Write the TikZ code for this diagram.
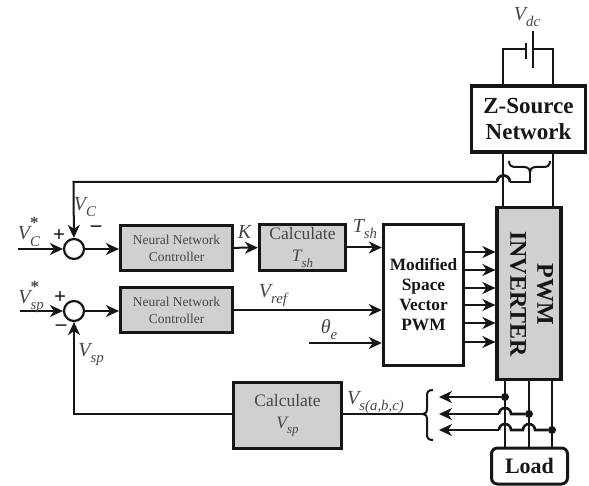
\documentclass[tikz,border=0pt]{standalone}
\usepackage{fontspec}
\setmainfont{Liberation Serif}
\usetikzlibrary{arrows.meta}
\definecolor{boxgray}{RGB}{208,208,208}
\definecolor{inkc}{RGB}{22,22,22}
\definecolor{labc}{RGB}{70,70,70}
\newcommand{\subsym}[2]{{\itshape #1}\raisebox{-0.3em}{\fontsize{0.74em}{1em}\selectfont\itshape #2}}
\newcommand{\starsym}[2]{{\itshape #1}\rlap{\raisebox{0.55em}{\fontsize{0.85em}{1em}\selectfont\bfseries *}}\raisebox{-0.32em}{\fontsize{0.74em}{1em}\selectfont\itshape #2}}
\tikzset{
  x=1pt,y=-1pt,
  wire/.style={draw=inkc,line width=2pt},
  arrowwire/.style={wire,-{Stealth[length=13pt,width=12pt,inset=4pt]}},
  blockgray/.style={draw=inkc,line width=3.2pt,fill=boxgray,inner sep=0pt,align=center},
  blockwhite/.style={draw=inkc,line width=3.4pt,fill=white,inner sep=0pt,align=center},
  sumnode/.style={circle,draw=inkc,line width=2.2pt,fill=white,minimum size=20pt,inner sep=0pt},
  dotnode/.style={circle,fill=inkc,minimum size=8pt,inner sep=0pt},
  lab/.style={text=labc,inner sep=0pt,font=\fontsize{20}{20}\selectfont},
  sign/.style={text=inkc,inner sep=0pt,font=\fontsize{21}{21}\selectfont\bfseries},
  nnfont/.style={font=\fontsize{13.5}{17}\selectfont,text=labc},
  calcfont/.style={font=\fontsize{17.5}{22}\selectfont,text=labc},
  boldfont/.style={font=\fontsize{17.3}{20}\selectfont\bfseries,text=inkc},
}
\begin{document}
\begin{tikzpicture}
\useasboundingbox (0,0) rectangle (589,486);
% battery
\coordinate (battL) at (503,49);
\coordinate (battR) at (553,49);
\coordinate (plA) at (526,49);
\coordinate (plB) at (533,49);
\draw[wire] (503,86) -- (battL) -- (plA);
\draw[wire] (553,86) -- (battR) -- (plB);
\draw[draw=inkc,line width=2.6pt] (526,43) -- (526,59);
\draw[draw=inkc,line width=2.6pt] (533,31) -- (533,68);
\node[lab] at (527,17) {\subsym{V}{dc}};
% Z-source
\node[blockwhite,minimum width=114pt,minimum height=66pt,font=\fontsize{23}{27}\selectfont\bfseries,text=inkc] (zs) at (528.5,119) {Z-Source\\Network};
% PWM inverter
\node[blockgray,minimum width=64pt,minimum height=172pt] (inv) at (529,293.5) {};
\node[rotate=-90,font=\fontsize{24}{27}\selectfont\bfseries,text=inkc,align=center] at (531.5,294) {PWM\\INVERTER};
\draw[wire] (503,152) -- (503,207);
\draw[wire] (553,152) -- (553,207);
% feedback brace + hop
\draw[wire] (509,161) .. controls (509,166) and (512,167) .. (516,167) -- (524,167)
  .. controls (528,167) and (530,169) .. (530,173)
  .. controls (530,169) and (532,167) .. (536,167) -- (543,167)
  .. controls (547,167) and (550,166) .. (550,161);
\coordinate (fbtip) at (530,182);
\coordinate (fbcorner) at (73.5,182);
\coordinate (hopA) at (510,182);
\coordinate (hopB) at (497,182);
\draw[wire] (530,173) -- (fbtip) -- (hopA);
\draw[draw=inkc,line width=2.8pt] (hopA) arc[start angle=0,end angle=180,radius=6.5pt];
% junctions
\node[sumnode] (s1) at (74,249) {};
\node[sumnode] (s2) at (74,311) {};
\draw[arrowwire] (hopB) -- (fbcorner) -- (s1);
% blocks
\node[blockgray,nnfont,minimum width=112pt,minimum height=45pt] (nn1) at (176.5,248) {Neural Network\\Controller};
\node[blockgray,nnfont,minimum width=112pt,minimum height=45pt] (nn2) at (176.5,310) {Neural Network\\Controller};
\node[blockgray,calcfont,minimum width=86pt,minimum height=46pt] (cts) at (302.5,247.5) {Calculate\\\subsym{T}{sh}};
\node[blockwhite,boldfont,minimum width=80pt,minimum height=141pt] (pwm) at (423.5,295) {Modified\\Space\\Vector\\PWM};
\node[blockgray,line width=3.6pt,calcfont,minimum width=108pt,minimum height=66pt] (cvs) at (287.5,415.5) {Calculate\\\subsym{V}{sp}};
% inputs
\coordinate (in1) at (18,249);
\coordinate (in2) at (20,311);
\coordinate (theta) at (309,343);
\draw[arrowwire] (in1) -- (s1);
\draw[arrowwire] (in2) -- (s2);
\draw[arrowwire] (s1) -- (nn1.west |- s1);
\draw[arrowwire] (s2) -- (nn2.west |- s2);
\draw[arrowwire] (nn1) -- (cts);
\draw[arrowwire] (cts.east) -- (pwm.west |- cts.east);
\draw[arrowwire] (nn2.east |- 0,310) -- (pwm.west |- 0,310);
\draw[arrowwire] (theta) -- (pwm.west |- theta);
% six outputs
\foreach \y in {252,270,288,305,323,342}
  \draw[arrowwire] (pwm.east |- 0,\y) -- (inv.west |- 0,\y);
% load
\node[draw=inkc,line width=3pt,rounded corners=6pt,fill=white,minimum width=76pt,minimum height=36pt,inner sep=0pt,font=\fontsize{22}{22}\selectfont\bfseries,text=inkc] (load) at (529.5,466) {Load};
% phases
\draw[wire] (505,380) -- (505,448);
\draw[wire] (529,380) -- (529,448);
\draw[wire] (552,380) -- (552,448);
\node[dotnode] (d1) at (505,397) {};
\node[dotnode] (d2) at (529,414) {};
\node[dotnode] (d3) at (552,430) {};
\coordinate (a1) at (439,397);
\coordinate (a2) at (439,414);
\coordinate (a3) at (439,430);
\draw[arrowwire] (d1) -- (a1);
\draw[wire,line width=2.6pt] (d2) -- (511,414) arc[start angle=0,end angle=180,radius=6pt];
\draw[arrowwire] (499,414) -- (a2);
\draw[wire,line width=2.6pt] (d3) -- (535,430) arc[start angle=0,end angle=180,radius=6pt] -- (511,430) arc[start angle=0,end angle=180,radius=6pt];
\draw[arrowwire] (499,430) -- (a3);
% brace
\coordinate (brtip) at (423,414);
\draw[wire] (433,390) .. controls (428,390) and (427,392) .. (427,396) -- (427,408)
  .. controls (427,412) and (426,414) .. (423,414)
  .. controls (426,414) and (427,416) .. (427,420) -- (427,434)
  .. controls (427,438) and (428,440) .. (433,440);
\draw[draw=inkc,line width=1.5pt] (brtip) -- (cvs.east |- brtip);
% V_sp feedback
\draw[arrowwire] (cvs.west |- 0,414) -- (74,414) -- (s2);
% labels
\node[lab] at (29,232) {\starsym{V}{C}};
\node[lab] at (31,297) {\starsym{V}{sp}};
\node[lab] at (85,207) {\subsym{V}{C}};
\node[lab] at (91,355) {\subsym{V}{sp}};
\node[lab] at (245,232) {\textit{K}};
\node[lab] at (365,229) {\subsym{T}{sh}};
\node[lab] at (273,296) {\subsym{V}{ref}};
\node[lab] at (329,330) {\subsym{θ}{e}};
\node[lab,anchor=west] at (347,403) {\subsym{V}{s(a,b,c)}};
\node[sign] at (59,236) {+};
\node[sign] at (60,298) {+};
\node[sign] at (96,229) {–};
\node[sign] at (61,328) {–};
\end{tikzpicture}
\end{document}
